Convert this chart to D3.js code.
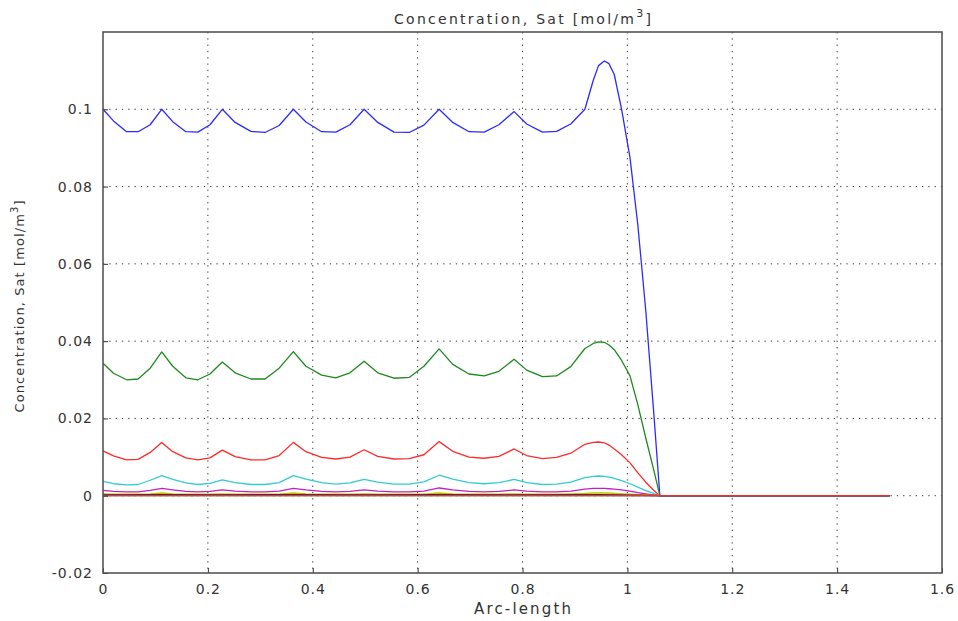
<!DOCTYPE html>
<html>
<head>
<meta charset="utf-8">
<script src="https://cdn.jsdelivr.net/npm/d3@7"></script>
<style>
  body { margin: 0; background: #fff; }
  svg { display: block; }
  text { font-family: "DejaVu Sans", sans-serif; fill: #333; }
</style>
</head>
<body>
<script>
// arc-length samples shared by the main curves
var arcX = [
  0, 0.020, 0.045, 0.067, 0.090,
  0.112, 0.133, 0.158, 0.181, 0.204,
  0.2275, 0.252, 0.282, 0.309, 0.336,
  0.363, 0.387, 0.417, 0.444, 0.471,
  0.498, 0.524, 0.555, 0.584, 0.612,
  0.641, 0.667, 0.698, 0.727, 0.755,
  0.784, 0.808, 0.838, 0.865, 0.892,
  0.919, 0.935, 0.945, 0.956, 0.965, 0.975, 0.989, 1.005, 1.020, 1.035, 1.050, 1.062,
  1.1, 1.2, 1.3, 1.4, 1.5
];

var blueY = [
  0.1000, 0.0970, 0.0942, 0.0942, 0.0960,
  0.1000, 0.0968, 0.0942, 0.0941, 0.0960,
  0.1000, 0.0966, 0.0943, 0.0940, 0.0958,
  0.1000, 0.0967, 0.0942, 0.0941, 0.0960,
  0.1000, 0.0966, 0.0941, 0.0940, 0.0959,
  0.1000, 0.0966, 0.0942, 0.0941, 0.0960,
  0.0994, 0.0962, 0.0941, 0.0943, 0.0962,
  0.1000, 0.1075, 0.1113, 0.1125, 0.1118, 0.1090, 0.1000, 0.0875, 0.0700, 0.0480, 0.0220, 0,
  0, 0, 0, 0, 0
];

var greenY = [
  0.0343, 0.0317, 0.0300, 0.0302, 0.0330,
  0.0372, 0.0335, 0.0305, 0.0300, 0.0315,
  0.0346, 0.0318, 0.0302, 0.0302, 0.0330,
  0.0373, 0.0335, 0.0312, 0.0305, 0.0318,
  0.0348, 0.0318, 0.0304, 0.0306, 0.0335,
  0.0380, 0.0340, 0.0315, 0.0310, 0.0322,
  0.0353, 0.0325, 0.0308, 0.0310, 0.0334,
  0.0381, 0.0394, 0.0398, 0.0397, 0.0390, 0.0378, 0.0350, 0.0310, 0.0235, 0.0150, 0.0068, 0,
  0, 0, 0, 0, 0
];

var redY = [
  0.0116, 0.0103, 0.0093, 0.0094, 0.0112,
  0.0138, 0.0114, 0.0098, 0.0093, 0.0098,
  0.0118, 0.0101, 0.0093, 0.0093, 0.0104,
  0.0138, 0.0114, 0.0099, 0.0095, 0.0100,
  0.0119, 0.0102, 0.0095, 0.0096, 0.0106,
  0.0140, 0.0115, 0.0100, 0.0097, 0.0102,
  0.0121, 0.0104, 0.0096, 0.0099, 0.0110,
  0.0133, 0.0138, 0.0139, 0.0137, 0.0131, 0.0121, 0.0106, 0.0085, 0.0059, 0.0035, 0.0014, 0,
  0, 0, 0, 0, 0
];

var cyanY = [
  0.0037, 0.0031, 0.0028, 0.0029, 0.0040,
  0.0052, 0.0042, 0.0033, 0.0029, 0.0032,
  0.0041, 0.0034, 0.0029, 0.0029, 0.0034,
  0.0052, 0.0043, 0.0034, 0.0030, 0.0033,
  0.0042, 0.0035, 0.0030, 0.0030, 0.0036,
  0.0053, 0.0043, 0.0034, 0.0031, 0.0034,
  0.0042, 0.0034, 0.0029, 0.0030, 0.0035,
  0.0047, 0.0050, 0.0051, 0.0050, 0.0048, 0.0045, 0.0039, 0.0031, 0.0022, 0.0013, 0.0006, 0,
  0, 0, 0, 0, 0
];

var magentaY = [
  0.0014, 0.0011, 0.0010, 0.0010, 0.0014,
  0.0019, 0.0015, 0.0011, 0.0010, 0.0011,
  0.0015, 0.0012, 0.0010, 0.0010, 0.0012,
  0.0019, 0.0015, 0.0011, 0.0010, 0.0011,
  0.0015, 0.0012, 0.0010, 0.0010, 0.0012,
  0.0020, 0.0015, 0.0011, 0.0010, 0.0011,
  0.0015, 0.0012, 0.0010, 0.0010, 0.0012,
  0.0017, 0.0019, 0.0019, 0.0019, 0.0018, 0.0017, 0.0015, 0.0012, 0.0008, 0.0005, 0.0002, 0,
  0, 0, 0, 0, 0
];

var yellowY = [
  0.0005, 0.0004, 0.0004, 0.0004, 0.0005,
  0.0007, 0.0005, 0.0004, 0.0004, 0.0004,
  0.0005, 0.0004, 0.0004, 0.0004, 0.0004,
  0.0007, 0.0005, 0.0004, 0.0004, 0.0004,
  0.0005, 0.0004, 0.0004, 0.0004, 0.0004,
  0.0007, 0.0005, 0.0004, 0.0004, 0.0004,
  0.0005, 0.0004, 0.0004, 0.0004, 0.0005,
  0.0006, 0.0007, 0.0007, 0.0007, 0.0007, 0.0006, 0.0005, 0.0004, 0.0003, 0.0002, 0.0001, 0,
  0, 0, 0, 0, 0
];

// the faint curves that hug zero use a coarser sampling
var lowX = [0, 0.112, 0.2275, 0.363, 0.498, 0.641, 0.784, 0.95, 1.062, 1.5];
var blackY = [0.0002, 0.0003, 0.0002, 0.0003, 0.0002, 0.0003, 0.0002, 0.0003, 0, 0];
var blue2Y = [0.0001, 0.0001, 0.0001, 0.0001, 0.0001, 0.0001, 0.0001, 0.0001, 0, 0];
var green2Y = [0.00005, 0.00005, 0.00005, 0.00005, 0.00005, 0.00005, 0.00005, 0.00005, 0, 0];
var red2Y = [0, 0, 0, 0, 0, 0, 0, 0, 0, 0];

var xTicks = [0, 0.2, 0.4, 0.6, 0.8, 1, 1.2, 1.4, 1.6];
var xTickLabels = ["0", "0.2", "0.4", "0.6", "0.8", "1", "1.2", "1.4", "1.6"];
var yTicks = [-0.02, 0, 0.02, 0.04, 0.06, 0.08, 0.1];
var yTickLabels = ["-0.02", "0", "0.02", "0.04", "0.06", "0.08", "0.1"];

var series = [
  {x: arcX, y: blueY, color: "#2b2bff"},
  {x: arcX, y: greenY, color: "#1e8a1e"},
  {x: arcX, y: redY, color: "#ff2a2a"},
  {x: arcX, y: cyanY, color: "#33cccc"},
  {x: arcX, y: magentaY, color: "#c21fc2"},
  {x: arcX, y: yellowY, color: "#bfbf00"},
  {x: lowX, y: blackY, color: "#222222"},
  {x: lowX, y: blue2Y, color: "#2b2bff"},
  {x: lowX, y: green2Y, color: "#1e8a1e"},
  {x: lowX, y: red2Y, color: "#ff2a2a"}
];

var W = 958, H = 621,
    padL = 103, padT = 32, padR = 942, padB = 573;

var svg = d3.select("body").append("svg")
    .attr("width", W)
    .attr("height", H);

var x = d3.scaleLinear().domain([0, 1.6]).range([padL, padR]);
var y = d3.scaleLinear().domain([-0.02, 0.12]).range([padB, padT]);

// dotted grid
svg.append("g").selectAll("line")
    .data(xTicks.slice(1, -1))
    .enter().append("line")
    .attr("x1", function(d){ return x(d); })
    .attr("x2", function(d){ return x(d); })
    .attr("y1", padT)
    .attr("y2", padB)
    .attr("stroke", "#333")
    .attr("stroke-width", 1)
    .attr("stroke-dasharray", "1.3,5");

svg.append("g").selectAll("line")
    .data(yTicks.slice(1))
    .enter().append("line")
    .attr("x1", padL)
    .attr("x2", padR)
    .attr("y1", function(d){ return y(d); })
    .attr("y2", function(d){ return y(d); })
    .attr("stroke", "#333")
    .attr("stroke-width", 1)
    .attr("stroke-dasharray", "1.3,5");

// curves
var line = d3.line()
    .x(function(d){ return x(d[0]); })
    .y(function(d){ return y(d[1]); });

svg.append("g").selectAll("path")
    .data(series)
    .enter().append("path")
    .attr("d", function(s){ return line(d3.zip(s.x, s.y)); })
    .attr("fill", "none")
    .attr("stroke", function(s){ return s.color; })
    .attr("stroke-width", 1.3)
    .attr("stroke-linejoin", "round");

// axes with inward ticks
var xAxis = svg.append("g")
    .attr("transform", "translate(0," + padB + ")")
    .call(d3.axisBottom(x).tickValues(xTicks)
        .tickFormat(function(d, i){ return xTickLabels[i]; })
        .tickSize(-5).tickPadding(11));

var yAxis = svg.append("g")
    .attr("transform", "translate(" + padL + ",0)")
    .call(d3.axisLeft(y).tickValues(yTicks)
        .tickFormat(function(d, i){ return yTickLabels[i]; })
        .tickSize(-5).tickPadding(10));

[xAxis, yAxis].forEach(function(g) {
    g.select(".domain").remove();
    g.selectAll(".tick line").attr("stroke", "#333");
    g.selectAll("text")
        .attr("fill", "#333")
        .style("font-size", "14px")
        .style("letter-spacing", "1px")
        .style("font-family", "DejaVu Sans, sans-serif");
});

// frame
svg.append("rect")
    .attr("x", padL)
    .attr("y", padT)
    .attr("width", padR - padL)
    .attr("height", padB - padT)
    .attr("fill", "none")
    .attr("stroke", "#555")
    .attr("stroke-width", 1.6);

// title
var title = svg.append("text")
    .attr("x", (padL + padR) / 2)
    .attr("y", 24)
    .attr("text-anchor", "middle")
    .style("font-size", "14px")
    .attr("textLength", 257)
    .attr("lengthAdjust", "spacing");
title.append("tspan").text("Concentration, Sat [mol/m");
title.append("tspan").attr("dy", -7).style("font-size", "11px").text("3");
title.append("tspan").attr("dy", 7).text("]");

// y label
var ylab = svg.append("text")
    .attr("transform", "translate(24," + ((padT + padB) / 2 + 4) + ") rotate(-90)")
    .attr("text-anchor", "middle")
    .style("font-size", "13px")
    .attr("textLength", 212)
    .attr("lengthAdjust", "spacing");
ylab.append("tspan").text("Concentration, Sat [mol/m");
ylab.append("tspan").attr("dy", -6).style("font-size", "10px").text("3");
ylab.append("tspan").attr("dy", 6).text("]");

// x label
svg.append("text")
    .attr("x", (padL + padR) / 2)
    .attr("y", 614)
    .attr("text-anchor", "middle")
    .style("font-size", "15px")
    .attr("textLength", 97)
    .attr("lengthAdjust", "spacing")
    .text("Arc-length");
</script>
</body>
</html>
